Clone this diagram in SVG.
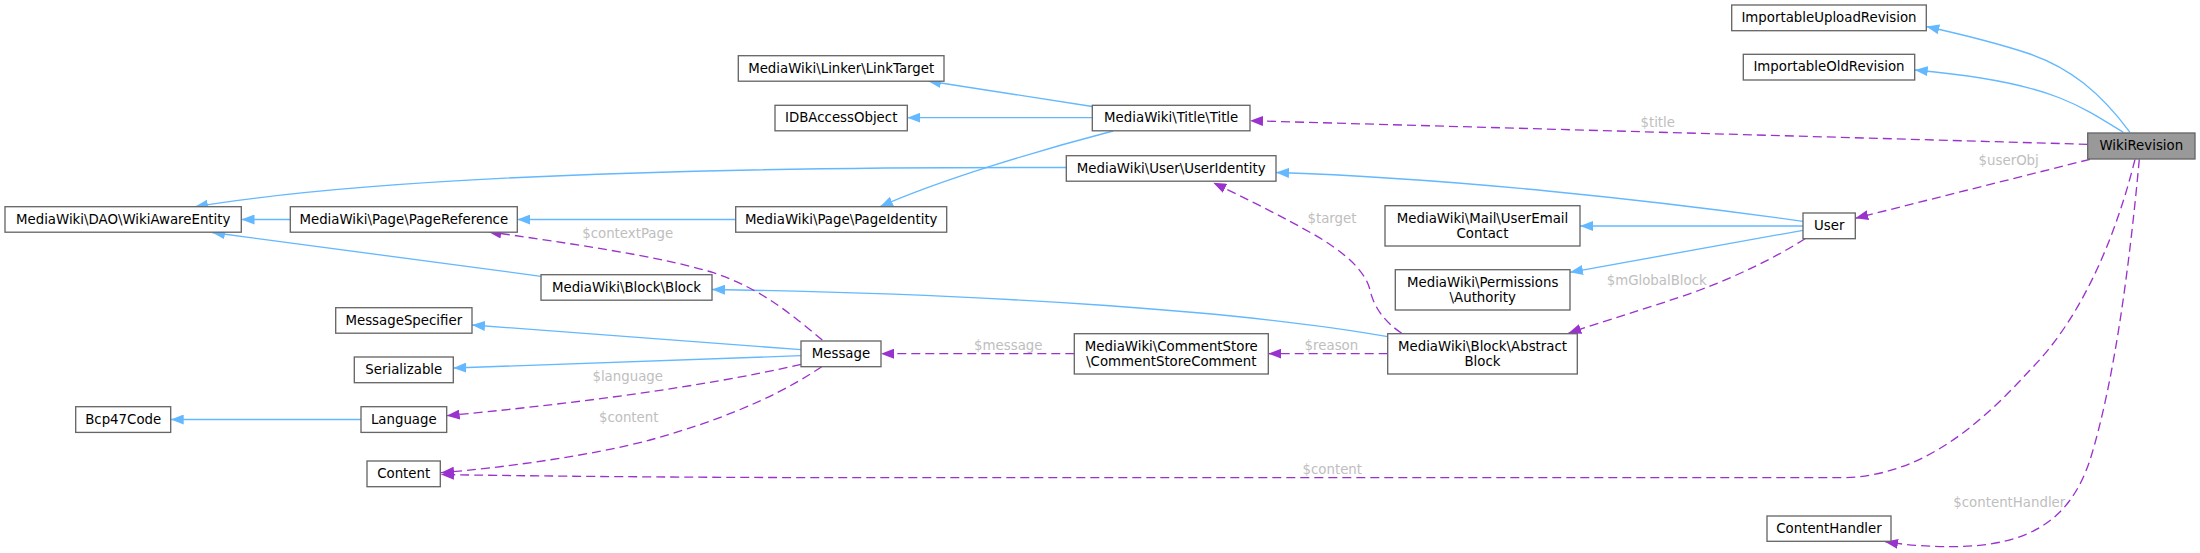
<svg xmlns="http://www.w3.org/2000/svg" width="2200" height="553" viewBox="0 0 2200 553">
<style>
.node rect{fill:#ffffff;stroke:#666666;stroke-width:1.33}
#WikiRevision rect{fill:#999999}
.node text,.lbl{font-family:"DejaVu Sans","Liberation Sans",sans-serif;font-size:13.33px;text-anchor:middle}
.node text{fill:#000000}
.lbl{fill:#bebebe}
.inh{fill:none;stroke:#63b8ff;stroke-width:1.33;marker-end:url(#ab)}
.use{fill:none;stroke:#9a32cd;stroke-width:1.33;stroke-dasharray:9,5;marker-end:url(#ap)}
</style>
<defs>
<marker id="ab" viewBox="0 0 13 10" refX="13" refY="5" markerWidth="13" markerHeight="10" markerUnits="userSpaceOnUse" orient="auto">
<path d="M0,0 L13,5 L0,10 z" fill="#63b8ff" stroke="none"/>
</marker>
<marker id="ap" viewBox="0 0 13 10" refX="13" refY="5" markerWidth="13" markerHeight="10" markerUnits="userSpaceOnUse" orient="auto">
<path d="M0,0 L13,5 L0,10 z" fill="#9a32cd" stroke="none"/>
</marker>
</defs>
<rect x="0" y="0" width="2200" height="553" fill="#ffffff"/>
<g id="connectors">
<path class="inh" d="M290.3,219.5 L241.5,219.5"/>
<path class="inh" d="M1066.3,167.5 C820,167 420,170 195,206.7"/>
<path class="inh" d="M541,276.3 L212,232.5"/>
<path class="inh" d="M735.7,219.5 L517.3,219.5"/>
<path class="inh" d="M1092.3,106.5 L928,81"/>
<path class="inh" d="M1092.3,117.7 L907.3,117.7"/>
<path class="inh" d="M1113,131 C1040,150 940,180 880,206.7"/>
<path class="inh" d="M1803,221.3 C1650,200 1450,178 1276,172.5"/>
<path class="inh" d="M1803,226 L1580,226"/>
<path class="inh" d="M1803,230.3 L1570,272.3"/>
<path class="inh" d="M1387.7,336.7 C1250,312 1000,294 712,289.5"/>
<path class="inh" d="M801,349.7 L472,325"/>
<path class="inh" d="M801,355.7 L453.3,368"/>
<path class="inh" d="M361,419.5 L170.7,419.5"/>
<path class="inh" d="M2130,132.3 C2100,92 2070,68 2030,54 C2000,44 1960,34 1926.3,26.5"/>
<path class="inh" d="M2123.3,132.3 C2100,118 2085,108 2060,98 C2020,82 1960,74 1914.7,70"/>
<path class="use" d="M2087.7,144.3 L1250,120.7"/>
<text class="lbl" x="1657.7" y="126.6">$title</text>
<path class="use" d="M2090,159.3 L1855.3,218.3"/>
<text class="lbl" x="2008.7" y="164.6">$userObj</text>
<path class="use" d="M1805,238.7 C1780,255 1740,275 1700,290 C1650,308 1600,322 1568.3,333.3"/>
<text class="lbl" x="1656.7" y="284.6">$mGlobalBlock</text>
<path class="use" d="M1401.7,333.3 C1385,322 1374,308 1370,290 C1366,272 1345,252 1313,234 C1285,218 1245,198 1213.3,182.7"/>
<text class="lbl" x="1332" y="223.3">$target</text>
<path class="use" d="M1387.7,353.7 L1268.3,353.7"/>
<text class="lbl" x="1331.4" y="350">$reason</text>
<path class="use" d="M1074.3,353.7 L881,353.7"/>
<text class="lbl" x="1008.3" y="350">$message</text>
<path class="use" d="M822.3,340 C795,318 765,290 713.3,272.7 C660,256 560,242 488.3,231.7"/>
<text class="lbl" x="627.7" y="238">$contextPage</text>
<path class="use" d="M801,364.3 C700,388 560,405 446.7,415.7"/>
<text class="lbl" x="627.7" y="381">$language</text>
<path class="use" d="M821.7,366.7 C790,388 740,415 650,440 C590,456 500,468 441,472.7"/>
<text class="lbl" x="628.7" y="422">$content</text>
<path class="use" d="M2135,159.3 C2115,240 2080,320 2030,370 C1980,425 1920,477.7 1840,477.7 L880,477.7 C700,477.7 520,476 441,474.5"/>
<text class="lbl" x="1332.3" y="474">$content</text>
<path class="use" d="M2139.3,159.3 C2130,260 2115,380 2090,460 C2070,520 2030,546.7 1950,546.7 C1930,546.7 1905,545 1885,541.7"/>
<text class="lbl" x="2009.3" y="506.6">$contentHandler</text>
</g>
<g id="WikiRevision" class="node"><rect x="2087.7" y="133" width="107.3" height="26"/><text x="2141.3" y="150">WikiRevision</text></g>
<g id="ImportableUploadRevision" class="node"><rect x="1731.7" y="5" width="194.6" height="25.7"/><text x="1829" y="22">ImportableUploadRevision</text></g>
<g id="ImportableOldRevision" class="node"><rect x="1743.3" y="54.3" width="171.4" height="25.7"/><text x="1829" y="71.3">ImportableOldRevision</text></g>
<g id="LinkTarget" class="node"><rect x="738.3" y="55.7" width="205.7" height="25.5"/><text x="841.2" y="72.7">MediaWiki\Linker\LinkTarget</text></g>
<g id="IDBAccessObject" class="node"><rect x="775" y="105.3" width="132.3" height="25.5"/><text x="841.2" y="122.3">IDBAccessObject</text></g>
<g id="Title" class="node"><rect x="1092.3" y="105.3" width="157.7" height="25.5"/><text x="1171.2" y="122.3">MediaWiki\Title\Title</text></g>
<g id="UserIdentity" class="node"><rect x="1066.3" y="155.7" width="209.7" height="25.5"/><text x="1171.2" y="172.7">MediaWiki\User\UserIdentity</text></g>
<g id="WikiAwareEntity" class="node"><rect x="5" y="206.7" width="236.3" height="25.5"/><text x="123.2" y="223.7">MediaWiki\DAO\WikiAwareEntity</text></g>
<g id="PageReference" class="node"><rect x="290.3" y="206.7" width="227" height="25.5"/><text x="403.8" y="223.7">MediaWiki\Page\PageReference</text></g>
<g id="PageIdentity" class="node"><rect x="735.7" y="206.7" width="211" height="25.5"/><text x="841.2" y="223.7">MediaWiki\Page\PageIdentity</text></g>
<g id="UserEmailContact" class="node"><rect x="1385" y="205.7" width="195" height="40.3"/><text x="1482.5" y="222.7">MediaWiki\Mail\UserEmail</text><text x="1482.5" y="237.7">Contact</text></g>
<g id="User" class="node"><rect x="1803" y="213" width="52.3" height="25.7"/><text x="1829.2" y="230">User</text></g>
<g id="Authority" class="node"><rect x="1395.3" y="269.7" width="174.7" height="40.3"/><text x="1482.7" y="286.7">MediaWiki\Permissions</text><text x="1482.7" y="301.7">\Authority</text></g>
<g id="Block" class="node"><rect x="541" y="274.7" width="171" height="25.5"/><text x="626.5" y="291.7">MediaWiki\Block\Block</text></g>
<g id="MessageSpecifier" class="node"><rect x="335.7" y="307.7" width="136.3" height="25.5"/><text x="403.8" y="324.7">MessageSpecifier</text></g>
<g id="AbstractBlock" class="node"><rect x="1387.7" y="333.7" width="189.6" height="40.3"/><text x="1482.5" y="350.7">MediaWiki\Block\Abstract</text><text x="1482.5" y="365.7">Block</text></g>
<g id="CommentStoreComment" class="node"><rect x="1074.3" y="333.7" width="194" height="40.3"/><text x="1171.3" y="350.7">MediaWiki\CommentStore</text><text x="1171.3" y="365.7">\CommentStoreComment</text></g>
<g id="Message" class="node"><rect x="801" y="341" width="80" height="25.7"/><text x="841" y="358">Message</text></g>
<g id="Serializable" class="node"><rect x="354.3" y="357" width="99" height="25.7"/><text x="403.8" y="374">Serializable</text></g>
<g id="Language" class="node"><rect x="361" y="406.7" width="85.7" height="25.7"/><text x="403.8" y="423.7">Language</text></g>
<g id="Bcp47Code" class="node"><rect x="75.7" y="406.7" width="95" height="25.7"/><text x="123.2" y="423.7">Bcp47Code</text></g>
<g id="Content" class="node"><rect x="367" y="461" width="73.3" height="25.7"/><text x="403.7" y="478">Content</text></g>
<g id="ContentHandler" class="node"><rect x="1767" y="516" width="124" height="25.3"/><text x="1829" y="533">ContentHandler</text></g>
</svg>
